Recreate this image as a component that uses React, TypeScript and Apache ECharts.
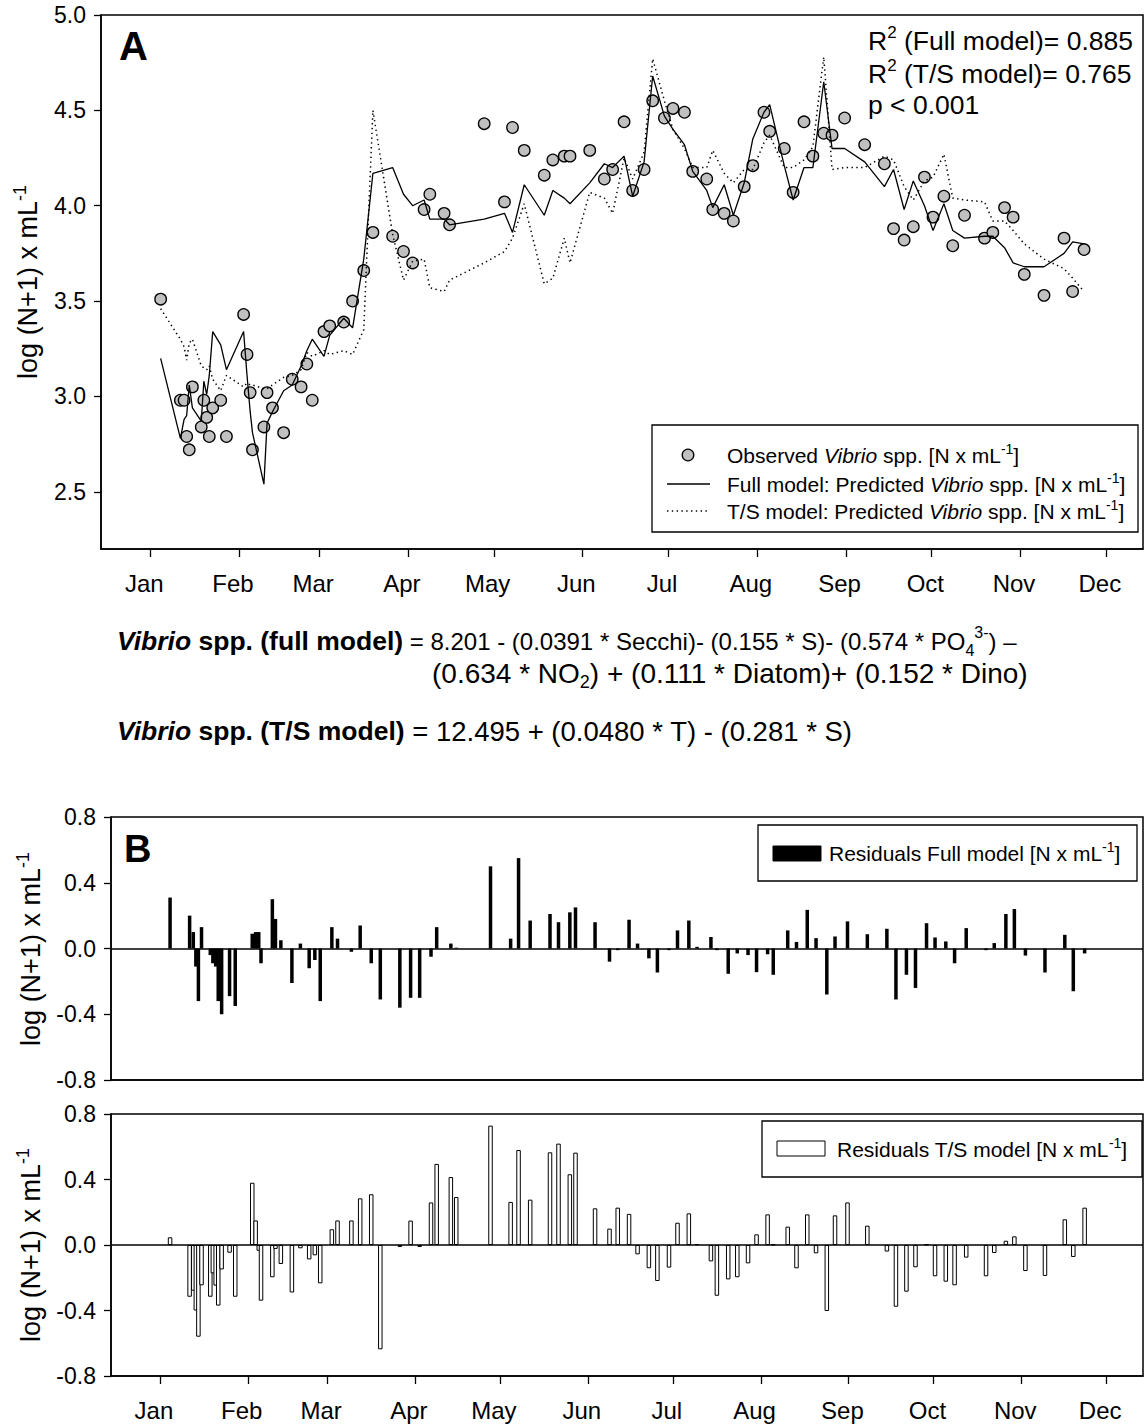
import React, { useEffect, useRef } from "react";
import * as echarts from "echarts";

const FONT = "'Liberation Sans', Arial, Helvetica, sans-serif";

// ---- axis helpers (day of year, Jan 1 = 0) ----
const monthNames = ["Jan", "Feb", "Mar", "Apr", "May", "Jun", "Jul", "Aug", "Sep", "Oct", "Nov", "Dec"];
const monthStartDays = [0, 31, 59, 90, 120, 151, 181, 212, 243, 273, 304, 334];
const yTicksA = [2.5, 3.0, 3.5, 4.0, 4.5, 5.0];

// ---- data ----
const sampleDays = [
  3.5, 10.4, 11.7, 12.6, 13.5, 14.6, 17.7, 18.6, 19.6, 20.5,
  21.7, 24.5, 26.5, 32.5, 33.7, 34.8, 35.6, 39.6, 40.7, 42.6,
  46.5, 49.5, 52.6, 54.6, 56.5, 60.6, 62.6, 67.5, 70.6, 74.5,
  77.7, 84.6, 88.4, 91.6, 95.6, 97.6, 102.6, 104.5, 116.6, 123.7,
  126.5, 130.6, 137.6, 140.6, 144.6, 146.6, 153.5, 158.6, 161.5, 165.5,
  168.5, 172.5, 175.5, 179.6, 182.6, 186.6, 189.5, 194.4, 196.5, 200.5,
  203.7, 207.5, 210.5, 214.4, 216.4, 221.5, 224.6, 228.4, 231.5, 235.3,
  238.2, 242.6, 249.6, 256.5, 259.7, 263.4, 266.6, 270.5, 273.5, 277.3,
  280.4, 284.5, 291.5, 294.4, 298.5, 301.5, 305.4, 312.3, 319.3, 322.3, 326.3,
];

const observed = [
  3.51, 2.98, 2.98, 2.79, 2.72, 3.05, 2.84, 2.98, 2.89, 2.79,
  2.94, 2.98, 2.79, 3.43, 3.22, 3.02, 2.72, 2.84, 3.02, 2.94,
  2.81, 3.09, 3.05, 3.17, 2.98, 3.34, 3.37, 3.39, 3.50, 3.66,
  3.86, 3.84, 3.76, 3.70, 3.98, 4.06, 3.96, 3.90, 4.43, 4.02,
  4.41, 4.29, 4.16, 4.24, 4.26, 4.26, 4.29, 4.14, 4.19, 4.44,
  4.08, 4.19, 4.55, 4.46, 4.51, 4.49, 4.18, 4.14, 3.98, 3.96,
  3.92, 4.10, 4.21, 4.49, 4.39, 4.30, 4.07, 4.44, 4.26, 4.38,
  4.37, 4.46, 4.32, 4.22, 3.88, 3.82, 3.89, 4.15, 3.94, 4.05,
  3.79, 3.95, 3.83, 3.86, 3.99, 3.94, 3.64, 3.53, 3.83, 3.55, 3.77,
];

const fullModel = [
  3.20, 2.78, 2.88, 2.90, 3.06, 2.94, 2.87, 3.08, 3.01, 3.11,
  3.34, 3.27, 3.14, 3.34, 3.11, 2.92, 2.81, 2.54, 2.86, 2.92,
  3.03, 3.06, 3.16, 3.24, 3.30, 3.21, 3.32, 3.41, 3.36, 3.72,
  4.17, 4.20, 4.06, 4.00, 4.03, 3.93, 3.93, 3.90, 3.93, 3.96,
  3.86, 4.11, 3.95, 4.08, 4.04, 4.01, 4.12, 4.22, 4.20, 4.26,
  4.05, 4.23, 4.68, 4.47, 4.40, 4.32, 4.18, 4.08, 3.99, 4.11,
  3.95, 4.12, 4.35, 4.49, 4.53, 4.21, 4.03, 4.20, 4.20, 4.65,
  4.30, 4.30, 4.23, 4.10, 4.19, 3.98, 4.13, 4.00, 3.87, 4.01,
  3.87, 3.83, 3.84, 3.84, 3.78, 3.70, 3.68, 3.68, 3.75, 3.81, 3.80,
];

const tsModel = [
  3.46, 3.30, 3.26, 3.19, 3.28, 3.30, 3.16, 3.15, 3.14, 3.16,
  3.09, 3.03, 3.11, 3.05, 3.07, 3.06, 3.06, 3.04, 3.04, 3.06,
  3.10, 3.11, 3.14, 3.23, 3.21, 3.24, 3.22, 3.24, 3.22, 3.35,
  4.50, 3.85, 3.61, 3.71, 3.72, 3.57, 3.55, 3.61, 3.70, 3.76,
  3.83, 4.01, 3.59, 3.62, 3.83, 3.70, 4.07, 4.04, 3.96, 4.25,
  4.14, 4.28, 4.77, 4.55, 4.40, 4.30, 4.20, 4.20, 4.29, 4.17,
  4.12, 4.19, 4.19, 4.33, 4.37, 4.20, 4.20, 4.24, 4.31, 4.78,
  4.19, 4.20, 4.20, 4.26, 4.24, 4.10, 4.03, 4.13, 4.15, 4.27,
  4.04, 4.03, 4.02, 3.92, 3.92, 3.87, 3.80, 3.72, 3.67, 3.62, 3.55,
];

const residFull = [
  0.31, 0.20, 0.10, -0.11, -0.32, 0.13, -0.04, -0.09, -0.11, -0.32,
  -0.40, -0.29, -0.35, 0.09, 0.10, 0.10, -0.09, 0.30, 0.18, 0.05,
  -0.21, 0.03, -0.12, -0.07, -0.32, 0.13, 0.06, -0.02, 0.14, -0.09,
  -0.31, -0.36, -0.30, -0.30, -0.05, 0.13, 0.03, 0.005, 0.50, 0.06,
  0.55, 0.17, 0.21, 0.16, 0.22, 0.25, 0.16, -0.08, -0.01, 0.175,
  0.03, -0.06, -0.146, -0.01, 0.11, 0.17, 0.01, 0.07, -0.01, -0.154,
  -0.03, -0.04, -0.144, -0.035, -0.16, 0.11, 0.04, 0.235, 0.063, -0.28,
  0.073, 0.165, 0.087, 0.12, -0.31, -0.16, -0.24, 0.154, 0.067, 0.043,
  -0.09, 0.124, -0.01, 0.033, 0.21, 0.24, -0.043, -0.146, 0.083, -0.26, -0.03,
];

const residTS = [
  0.047, -0.316, -0.279, -0.40, -0.56, -0.246, -0.316, -0.173, -0.248, -0.37,
  -0.149, -0.047, -0.316, 0.38, 0.15, -0.035, -0.34, -0.197, -0.024, -0.116,
  -0.29, -0.02, -0.088, -0.063, -0.234, 0.096, 0.15, 0.15, 0.285, 0.31,
  -0.637, -0.012, 0.149, -0.012, 0.26, 0.495, 0.415, 0.293, 0.729, 0.263,
  0.58, 0.277, 0.566, 0.619, 0.432, 0.564, 0.224, 0.10, 0.228, 0.19,
  -0.057, -0.142, -0.22, -0.138, 0.136, 0.193, 0.005, -0.10, -0.31, -0.21,
  -0.197, -0.112, 0.065, 0.187, 0.003, 0.112, -0.142, 0.187, -0.051, -0.403,
  0.181, 0.26, 0.118, -0.04, -0.377, -0.285, -0.136, 0.003, -0.191, -0.224,
  -0.246, -0.077, -0.191, -0.049, 0.026, 0.053, -0.159, -0.189, 0.157, -0.073, 0.228,
];

// ---- text helpers ----
const tok = (size: number, extra: any = {}) => ({
  fontSize: size,
  fontFamily: FONT,
  fill: "#000",
  lineHeight: Math.round(size * 1.3),
  ...extra,
});

const rich = (size: number, regSize?: number) => {
  const rs = regSize ?? size;
  return {
    r: tok(rs),
    i: tok(size, { fontStyle: "italic" }),
    b: tok(size, { fontWeight: "bold" }),
    bi: tok(size, { fontWeight: "bold", fontStyle: "italic" }),
    sup: { fontSize: Math.round(rs * 0.65), fontFamily: FONT, fill: "#000", verticalAlign: "top" },
    sub: { fontSize: Math.round(rs * 0.65), fontFamily: FONT, fill: "#000", verticalAlign: "bottom" },
  };
};

const txt = (x: number, y: number, text: string, size: number, extra: any = {}, regSize?: number) => {
  const { rotation, ...styleExtra } = extra;
  const el: any = {
    type: "text",
    x,
    y,
    z: 100,
    style: {
      text,
      rich: rich(size, regSize),
      fontSize: size,
      fontFamily: FONT,
      fill: "#000",
      align: "left",
      verticalAlign: "middle",
      ...styleExtra,
    },
  };
  if (rotation !== undefined) el.rotation = rotation;
  return el;
};

const AX_MIN = -17.35;
const AX_MAX = 346.9;
const LABEL_SHIFT = 2.2;

const monthFormatter = (v: number) => {
  let best = 0;
  let bd = Infinity;
  monthStartDays.forEach((d, i) => {
    const dd = Math.abs(d - LABEL_SHIFT - v);
    if (dd < bd) {
      bd = dd;
      best = i;
    }
  });
  return monthNames[best];
};

const xAxisFor = (gridIndex: number, withLabels: boolean) => ({
  type: "value",
  gridIndex,
  min: AX_MIN,
  max: AX_MAX,
  axisLine: { show: true, onZero: false, lineStyle: { color: "#000", width: 1.5 } },
  axisTick: {
    show: withLabels,
    customValues: monthStartDays,
    length: 8,
    lineStyle: { color: "#000", width: 1.3 },
  },
  axisLabel: {
    show: withLabels,
    customValues: monthStartDays.map((d) => d - LABEL_SHIFT),
    formatter: monthFormatter,
    color: "#000",
    fontSize: 24,
    fontFamily: FONT,
    margin: 22,
  },
  splitLine: { show: false },
});

const yAxisB = (gridIndex: number) => ({
  type: "value",
  gridIndex,
  min: -0.8,
  max: 0.8,
  interval: 0.4,
  axisLine: { show: true, onZero: false, lineStyle: { color: "#000", width: 1.5 } },
  axisTick: { show: true, length: 7, lineStyle: { color: "#000", width: 1.3 } },
  axisLabel: {
    color: "#000",
    fontSize: 23,
    fontFamily: FONT,
    margin: 15,
    formatter: (v: number) => (Math.abs(v) < 1e-9 ? "0.0" : v.toFixed(1)),
  },
  splitLine: { show: false },
});

const gridStyle = {
  show: true,
  borderColor: "#000",
  borderWidth: 1.5,
  backgroundColor: "transparent",
  containLabel: false,
  outerBoundsMode: "none",
};

const zeroLine = {
  silent: true,
  symbol: ["none", "none"],
  label: { show: false },
  lineStyle: { color: "#000", width: 1.5, type: "solid" },
  data: [{ yAxis: 0 }],
};

const option: any = {
  animation: false,
  backgroundColor: "#fff",
  grid: [
    { ...gridStyle, left: 101, top: 15, width: 1042, height: 534 },
    { ...gridStyle, left: 111, top: 817, width: 1032, height: 263 },
    { ...gridStyle, left: 111, top: 1114, width: 1032, height: 262 },
  ],
  xAxis: [xAxisFor(0, true), xAxisFor(1, false), xAxisFor(2, true)],
  yAxis: [
    {
      type: "value",
      gridIndex: 0,
      min: 2.2,
      max: 5.0,
      axisLine: { show: true, onZero: false, lineStyle: { color: "#000", width: 1.5 } },
      axisTick: { show: true, customValues: yTicksA, length: 7, lineStyle: { color: "#000", width: 1.3 } },
      axisLabel: {
        customValues: yTicksA,
        color: "#000",
        fontSize: 23,
        fontFamily: FONT,
        margin: 15,
        formatter: (v: number) => v.toFixed(1),
      },
      splitLine: { show: false },
    },
    yAxisB(1),
    yAxisB(2),
  ],
  series: [
    {
      name: "Observed",
      type: "scatter",
      xAxisIndex: 0,
      yAxisIndex: 0,
      z: 2,
      symbol: "circle",
      symbolSize: 11.5,
      itemStyle: { color: "#c0c0c0", borderColor: "#000", borderWidth: 1.3, opacity: 1 },
      data: sampleDays.map((d, i) => [d, observed[i]]),
    },
    {
      name: "Full model",
      type: "line",
      xAxisIndex: 0,
      yAxisIndex: 0,
      z: 3,
      showSymbol: false,
      symbol: "none",
      lineStyle: { color: "#000", width: 1.3 },
      data: sampleDays.map((d, i) => [d, fullModel[i]]),
    },
    {
      name: "T/S model",
      type: "line",
      xAxisIndex: 0,
      yAxisIndex: 0,
      z: 3,
      showSymbol: false,
      symbol: "none",
      lineStyle: { color: "#000", width: 1.5, type: [1.4, 3.4] },
      data: sampleDays.map((d, i) => [d, tsModel[i]]),
    },
    {
      name: "Residuals Full model",
      type: "bar",
      xAxisIndex: 1,
      yAxisIndex: 1,
      barWidth: 3.5,
      itemStyle: { color: "#000" },
      data: sampleDays.map((d, i) => [d, residFull[i]]),
      markLine: zeroLine,
    },
    {
      name: "Residuals T/S model",
      type: "bar",
      xAxisIndex: 2,
      yAxisIndex: 2,
      barWidth: 4.5,
      itemStyle: { color: "#fff", borderColor: "#000", borderWidth: 1 },
      data: sampleDays.map((d, i) => [d, residTS[i]]),
      markLine: zeroLine,
    },
  ],
  graphic: [
    // panel letters
    { type: "text", x: 119, y: 26, z: 100, style: { text: "A", fontSize: 40, fontWeight: "bold", fontFamily: FONT, fill: "#000" } },
    { type: "text", x: 124, y: 830, z: 100, style: { text: "B", fontSize: 38, fontWeight: "bold", fontFamily: FONT, fill: "#000" } },
    // R2 block
    txt(868, 41, "{r|R}{sup|2}{r| (Full model)= 0.885}", 26.5),
    txt(868, 74, "{r|R}{sup|2}{r| (T/S model)= 0.765}", 26.5),
    txt(868, 105, "{r|p < 0.001}", 26.5),
    // legend A
    {
      type: "rect",
      z: 90,
      shape: { x: 652, y: 425, width: 486, height: 107 },
      style: { fill: "#fff", stroke: "#000", lineWidth: 1.3 },
    },
    { type: "circle", z: 95, shape: { cx: 688, cy: 455, r: 5.8 }, style: { fill: "#c0c0c0", stroke: "#000", lineWidth: 1.3 } },
    { type: "line", z: 95, shape: { x1: 667, y1: 484, x2: 710, y2: 484 }, style: { stroke: "#000", lineWidth: 1.3 } },
    { type: "line", z: 95, shape: { x1: 667, y1: 511, x2: 710, y2: 511 }, style: { stroke: "#000", lineWidth: 1.5, lineDash: [1.4, 3.4] } },
    txt(727, 455, "{r|Observed }{i|Vibrio}{r| spp. [N x mL}{sup|-1}{r|]}", 21),
    txt(727, 484, "{r|Full model: Predicted }{i|Vibrio}{r| spp. [N x mL}{sup|-1}{r|]}", 21),
    txt(727, 511, "{r|T/S model: Predicted }{i|Vibrio}{r| spp. [N x mL}{sup|-1}{r|]}", 21),
    // equations
    txt(117, 641, "{bi|Vibrio}{b| spp. (full model)}{r| = 8.201 - (0.0391 * Secchi)- (0.155 * S)- (0.574 * PO}{sub|4}{sup|3-}{r|) –}", 26.5, {}, 24),
    txt(432, 673, "{r|(0.634 * NO}{sub|2}{r|) + (0.111 * Diatom)+ (0.152 * Dino)}", 26.5, {}, 28),
    txt(117, 731, "{bi|Vibrio}{b| spp. (T/S model)}{r| = 12.495 + (0.0480 * T) - (0.281 * S)}", 26.5, {}, 27.5),
    // y axis titles
    txt(28, 282, "{r|log (N+1) x mL}{sup|-1}", 27, { align: "center", rotation: Math.PI / 2 }),
    txt(31, 949, "{r|log (N+1) x mL}{sup|-1}", 27, { align: "center", rotation: Math.PI / 2 }),
    txt(31, 1245, "{r|log (N+1) x mL}{sup|-1}", 27, { align: "center", rotation: Math.PI / 2 }),
    // legend B1
    {
      type: "rect",
      z: 90,
      shape: { x: 758, y: 825, width: 379, height: 56 },
      style: { fill: "#fff", stroke: "#000", lineWidth: 1.3 },
    },
    { type: "rect", z: 95, shape: { x: 773, y: 846, width: 48, height: 15 }, style: { fill: "#000", stroke: "#000", lineWidth: 1 } },
    txt(829, 853, "{r|Residuals Full model [N x mL}{sup|-1}{r|]}", 21),
    // legend B2
    {
      type: "rect",
      z: 90,
      shape: { x: 762, y: 1121, width: 380, height: 56 },
      style: { fill: "#fff", stroke: "#000", lineWidth: 1.3 },
    },
    { type: "rect", z: 95, shape: { x: 777, y: 1141, width: 48, height: 15 }, style: { fill: "#fff", stroke: "#000", lineWidth: 1 } },
    txt(837, 1149, "{r|Residuals T/S model [N x mL}{sup|-1}{r|]}", 21),
  ],
};

export default function App() {
  const ref = useRef<HTMLDivElement>(null);
  useEffect(() => {
    if (!ref.current) return;
    const chart = echarts.init(ref.current, undefined, { renderer: "svg" });
    chart.setOption(option);
    return () => {
      chart.dispose();
    };
  }, []);
  return (
    <div
      ref={ref}
      style={{ position: "fixed", left: 0, top: 0, width: 1147, height: 1427, background: "#fff" }}
    />
  );
}
